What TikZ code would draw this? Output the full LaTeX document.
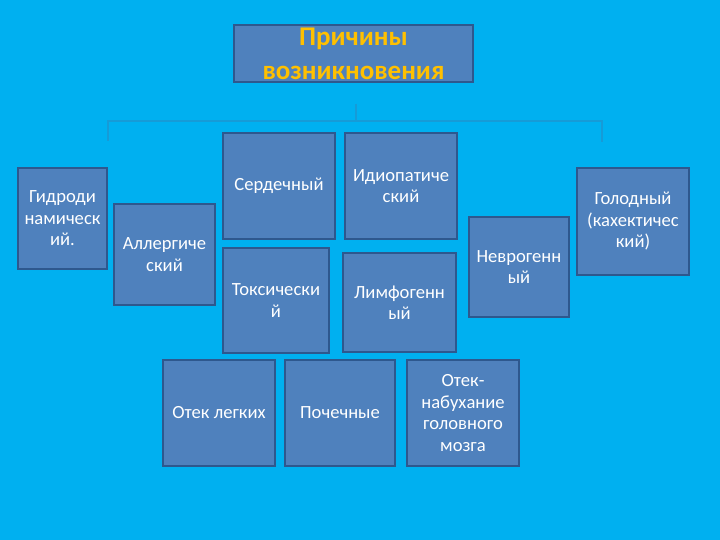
\documentclass[tikz,border=0pt]{standalone}
\usepackage{fontspec}
\setmainfont{Carlito}
\usetikzlibrary{positioning}

\definecolor{skyback}{RGB}{0,176,240}
\definecolor{cardfill}{RGB}{79,129,189}
\definecolor{cardline}{RGB}{46,88,142}
\definecolor{braceline}{RGB}{22,155,215}
\definecolor{titletext}{RGB}{255,192,0}

\begin{document}
\begin{tikzpicture}[
    x=1pt, y=-1pt,
    cause/.style={rectangle, minimum width=112pt, minimum height=106pt, inner sep=0pt, align=center, draw=cardline, line width=2pt, fill=cardfill, text=white, font=\fontsize{18.6}{21.5}\selectfont},
    header/.style={cause, minimum width=239pt, minimum height=57pt, text=titletext, font=\fontsize{27}{34}\selectfont\bfseries},
    brace/.style={draw=braceline, line width=1.5pt},
]
    \fill [skyback] (0,0) rectangle (720,540);
    \useasboundingbox (0,0) rectangle (720,540);

    % Top box and bracket
    \node (title) [header] at (353.5,53.5) {Причины\\возникновения};
    \coordinate (brace_top) at (356,104);
    \coordinate (brace_mid) at (356,121);
    \coordinate (brace_left) at (108,121);
    \coordinate (brace_right) at (602,121);
    \coordinate (brace_left_end) at (108,141);
    \coordinate (brace_right_end) at (602,142);
    \draw [brace] (brace_left_end) -- (brace_left) -- (brace_right) -- (brace_right_end);
    \draw [brace] (brace_top) -- (brace_mid);

    % Causes
    \node (gidro) [cause, minimum width=89pt, minimum height=101pt] at (62.5,218.5) {Гидроди\\намическ\\ий.};
    \node (allerg) [cause, minimum width=101pt, minimum height=101pt] at (164.5,254.5) {Аллергиче\\ский};
    \node (serd) [cause] at (279,186) {Сердечный};
    \node (idio) [cause, right=8pt of serd] {Идиопатиче\\ский};
    \node (toks) [cause, minimum width=106pt, minimum height=105pt] at (276,300.5) {Токсически\\й};
    \node (limf) [cause, minimum width=113pt, minimum height=99pt] at (399.5,302.5) {Лимфогенн\\ый};
    \node (nevro) [cause, minimum width=100pt, minimum height=100pt] at (519,267) {Неврогенн\\ый};
    \node (golod) [cause, minimum height=107pt] at (633,221.5) {Голодный\\(кахектичес\\кий)};

    % Bottom row
    \node (otek_legkih) [cause] at (219,413) {Отек легких};
    \node (pochechnye) [cause, minimum width=110pt, right=8pt of otek_legkih] {Почечные};
    \node (otek_mozga) [cause, right=10pt of pochechnye] {Отек-\\набухание\\головного\\мозга};

\end{tikzpicture}
\end{document}
